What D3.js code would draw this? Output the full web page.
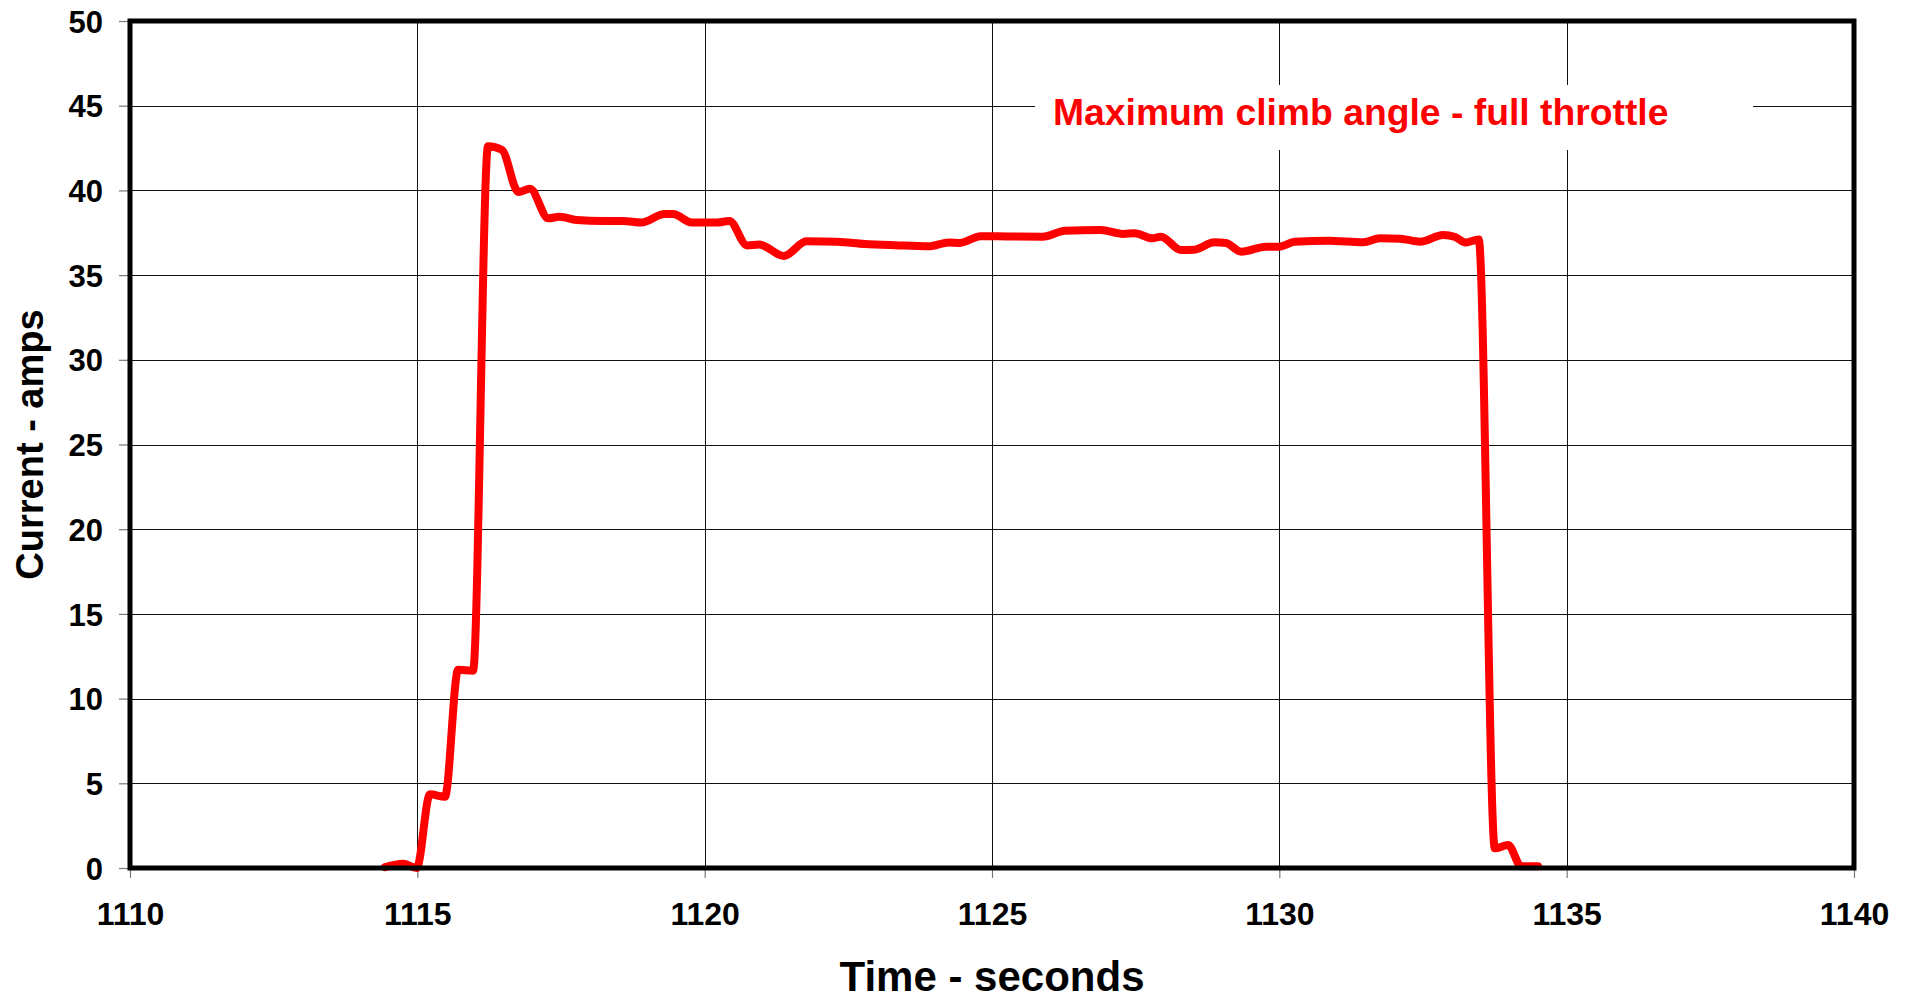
<!DOCTYPE html>
<html>
<head>
<meta charset="utf-8">
<script src="https://cdn.jsdelivr.net/npm/d3@7"></script>
<style>
  html, body { margin: 0; padding: 0; background: #fff; }
  svg { display: block; font-family: "Liberation Sans", Arial, sans-serif; font-weight: bold; }
</style>
</head>
<body>
<div id="chart"></div>
<script>
// time (s) and motor current (A)
const times = [
  1114.44, 1114.75, 1114.99, 1115.22, 1115.48, 1115.71, 1115.97, 1116.23,
  1116.47, 1116.76, 1116.96, 1117.28, 1117.48, 1117.77, 1118.23, 1118.58,
  1118.9, 1119.3, 1119.45, 1119.78, 1120.21, 1120.43, 1120.74, 1120.95,
  1121.38, 1121.77, 1122.31, 1122.78, 1123.32, 1123.9, 1124.25, 1124.44,
  1124.8, 1125.3, 1125.88, 1126.27, 1126.89, 1127.28, 1127.48, 1127.79,
  1127.94, 1128.29, 1128.52, 1128.87, 1129.07, 1129.34, 1129.77, 1130.0,
  1130.27, 1130.85, 1131.46, 1131.75, 1132.1, 1132.45, 1132.85, 1133.06,
  1133.24, 1133.47, 1133.75, 1133.98, 1134.21, 1134.5
];
const current = [
  0.05, 0.25, 0.0, 4.35, 4.2, 11.7, 11.65, 42.6,
  42.4, 39.9, 40.1, 38.35, 38.45, 38.25, 38.2, 38.2,
  38.1, 38.6, 38.6, 38.1, 38.1, 38.2, 36.75, 36.8,
  36.13, 37.0, 36.97, 36.84, 36.76, 36.7, 36.93, 36.9,
  37.3, 37.28, 37.27, 37.62, 37.66, 37.43, 37.47, 37.17,
  37.27, 36.48, 36.5, 36.94, 36.9, 36.38, 36.68, 36.68,
  36.97, 37.03, 36.94, 37.17, 37.15, 36.97, 37.37, 37.25,
  36.92, 37.1, 1.16, 1.36, 0.1, 0.1
];
const xTicks = [1110, 1115, 1120, 1125, 1130, 1135, 1140];
const yTicks = [0, 5, 10, 15, 20, 25, 30, 35, 40, 45, 50];
const xTitle = "Time - seconds";
const yTitle = "Current - amps";
const note = "Maximum climb angle - full throttle";

const data = times.map((t, i) => ({ t: t, v: current[i] }));

const W = 1912, H = 1001;
const plot = { left: 130, right: 1854, top: 21, bottom: 868 };

const svg = d3.select("#chart").append("svg")
  .attr("width", W)
  .attr("height", H);

const x = d3.scaleLinear().domain([1110, 1140]).range([plot.left, plot.right]);
const y = d3.scaleLinear().domain([0, 50]).range([plot.bottom, plot.top]);

// gridlines
const grid = svg.append("g").attr("shape-rendering", "crispEdges");
grid.selectAll("line.h")
  .data(yTicks.filter(d => d > 0 && d < 50))
  .join("line")
    .attr("class", "h")
    .attr("x1", plot.left).attr("x2", plot.right)
    .attr("y1", d => Math.round(y(d)) + 0.5).attr("y2", d => Math.round(y(d)) + 0.5)
    .attr("stroke", "#111").attr("stroke-width", 1);
grid.selectAll("line.v")
  .data(xTicks.filter(d => d > 1110 && d < 1140))
  .join("line")
    .attr("class", "v")
    .attr("y1", plot.top).attr("y2", plot.bottom)
    .attr("x1", d => Math.round(x(d)) + 0.5).attr("x2", d => Math.round(x(d)) + 0.5)
    .attr("stroke", "#111").attr("stroke-width", 1);

// axes (ticks outside the frame)
const yAxis = svg.append("g")
  .attr("transform", `translate(${plot.left},0)`)
  .call(d3.axisLeft(y).tickValues(yTicks).tickSize(11).tickPadding(16));
const xAxis = svg.append("g")
  .attr("transform", `translate(0,${plot.bottom})`)
  .call(d3.axisBottom(x).tickValues(xTicks).tickFormat(d3.format("d")).tickSize(10).tickPadding(24));
[yAxis, xAxis].forEach(a => {
  a.select(".domain").remove();
  a.selectAll(".tick line").attr("stroke", "#777").attr("stroke-width", 1.2);
  a.selectAll("text")
    .attr("fill", "#000")
    .style("font-family", "'Liberation Sans', Arial, sans-serif")
    .style("font-weight", "bold");
});
yAxis.selectAll("text").style("font-size", "31px").attr("dy", "0.36em");
xAxis.selectAll("text").style("font-size", "32px").attr("dy", "0.71em");

// annotation box
svg.append("rect")
  .attr("x", 1035).attr("y", 85)
  .attr("width", 718).attr("height", 65)
  .attr("fill", "#fff");
svg.append("text")
  .attr("x", 1053).attr("y", 125)
  .attr("fill", "#ff0000")
  .style("font-size", "37.3px")
  .text(note);

// data line (smoothed, no overshoot)
const line = d3.line()
  .x(d => x(d.t))
  .y(d => y(d.v))
  .curve(d3.curveMonotoneX);
svg.append("path")
  .datum(data)
  .attr("d", line)
  .attr("fill", "none")
  .attr("stroke", "#ff0000")
  .attr("stroke-width", 8)
  .attr("stroke-linejoin", "round")
  .attr("stroke-linecap", "round");

// plot frame
svg.append("rect")
  .attr("x", plot.left).attr("y", plot.top)
  .attr("width", plot.right - plot.left).attr("height", plot.bottom - plot.top)
  .attr("fill", "none")
  .attr("stroke", "#000")
  .attr("stroke-width", 5);

// axis titles
svg.append("text")
  .attr("x", (plot.left + plot.right) / 2).attr("y", 991)
  .attr("text-anchor", "middle")
  .style("font-size", "42px")
  .text(xTitle);
svg.append("text")
  .attr("transform", `translate(43,${(plot.top + plot.bottom) / 2}) rotate(-90)`)
  .attr("text-anchor", "middle")
  .style("font-size", "38px")
  .text(yTitle);
</script>
</body>
</html>
